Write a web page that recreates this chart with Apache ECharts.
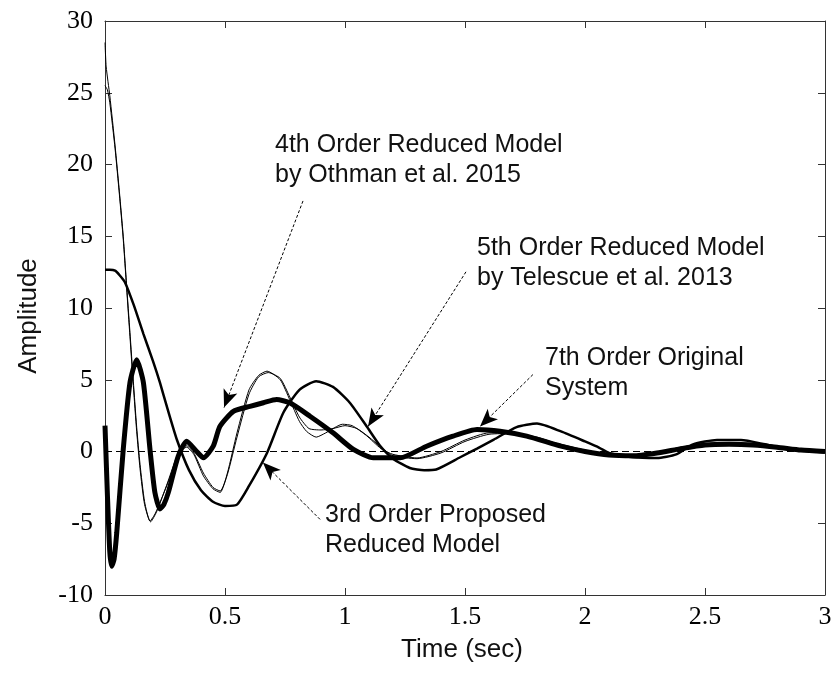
<!DOCTYPE html>
<html>
<head>
<meta charset="utf-8">
<script src="https://cdn.jsdelivr.net/npm/echarts@6/dist/echarts.min.js"></script>
<style>html,body{margin:0;padding:0;background:#fff}#c{width:837px;height:678px}</style>
</head>
<body>
<div id="c"></div>
<script>
// ---- data ----
var xTicks = [0, 0.5, 1, 1.5, 2, 2.5, 3];
var yTicks = [-10, -5, 0, 5, 10, 15, 20, 25, 30];

// 7th order original system
var t7 = [0,0.005,0.02,0.042,0.06,0.076,0.09,0.104,0.118,0.132,0.146,0.165,0.1875,0.21,0.257,0.3125,0.34,0.37,0.41,0.45,0.48,0.51,0.55,0.6,0.64,0.675,0.73,0.77,0.81,0.84,0.88,0.92,0.99,1.03,1.09,1.15,1.2,1.3,1.4,1.5,1.6,1.7,1.8,1.9,2.0,2.1,2.2,2.3,2.4,2.5,2.6,2.7,2.8,2.9,3.0];
var v7 = [28.5,26.8,24.8,21.3,18.1,15.0,11.6,8.3,4.9,1.7,-0.9,-3.5,-4.85,-4.3,-2.4,0,0.3,-0.2,-1.7,-2.6,-2.85,-1.5,1.3,4.3,5.3,5.6,5.0,3.6,2.1,1.4,1.0,1.3,1.9,1.8,1.1,0.2,-0.2,-0.45,0.0,0.8,1.3,1.3,0.9,0.5,0.1,-0.2,-0.3,-0.1,0.3,0.5,0.6,0.55,0.3,0.05,0];

// 5th order reduced model (Telescue et al. 2013)
var t5 = [0,0.01,0.02,0.042,0.06,0.076,0.09,0.104,0.118,0.132,0.146,0.165,0.19,0.215,0.26,0.31,0.34,0.37,0.41,0.45,0.48,0.51,0.55,0.6,0.64,0.68,0.73,0.77,0.81,0.85,0.9,0.95,1.0,1.05,1.1,1.15,1.2,1.3,1.4,1.5,1.6,1.7,1.8,1.9,2.0,2.1,2.2,2.3,2.4,2.5,2.6,2.7,2.8,2.9,3.0];
var v5 = [25.5,25.2,24.3,21.1,17.9,14.8,11.4,8.0,4.6,1.4,-1.2,-3.7,-4.9,-4.2,-2.2,0.1,0.4,-0.1,-1.5,-2.5,-2.75,-1.6,1.0,4.0,5.2,5.5,5.1,3.8,2.4,1.6,1.5,1.6,1.8,1.6,1.0,0.3,-0.3,-0.5,-0.1,0.7,1.2,1.25,1.0,0.45,0.05,-0.25,-0.3,-0.05,0.3,0.55,0.6,0.5,0.25,0.05,0];

// 4th order reduced model (Othman et al. 2015)
var t4 = [0,0.02,0.042,0.06,0.083,0.12,0.16,0.2,0.229,0.26,0.3,0.35,0.4,0.45,0.5,0.55,0.6,0.675,0.743,0.81,0.88,0.95,1.02,1.09,1.146,1.2,1.27,1.33,1.38,1.48,1.55,1.62,1.715,1.8,1.9,2.0,2.06,2.1,2.2,2.3,2.38,2.45,2.55,2.65,2.75,2.85,2.95,3.0];
var v4 = [12.66,12.66,12.6,12.3,11.8,10.2,8.2,6.3,4.8,3.0,0.8,-1.3,-2.7,-3.5,-3.8,-3.7,-2.4,-0.1,2.7,4.3,4.9,4.5,3.4,1.76,0.4,-0.5,-1.15,-1.3,-1.25,-0.4,0.2,0.83,1.7,1.95,1.4,0.7,0.26,-0.1,-0.4,-0.45,-0.2,0.5,0.8,0.8,0.5,0.15,0.0,-0.05];

// 3rd order proposed reduced model
var t3 = [0,0.01,0.02,0.028,0.038,0.049,0.076,0.104,0.132,0.16,0.1875,0.208,0.229,0.245,0.264,0.305,0.34,0.382,0.41,0.451,0.479,0.535,0.604,0.66,0.715,0.77,0.854,0.95,1.035,1.118,1.23,1.34,1.45,1.55,1.646,1.757,1.9,2.0,2.1,2.2,2.3,2.4,2.5,2.6,2.7,2.8,2.9,3.0];
var v3 = [1.8,-3,-7,-8.0,-7.5,-5.65,0.14,4.8,6.4,4.8,0.14,-2.87,-4.0,-3.7,-2.85,-0.33,0.72,0.0,-0.44,0.37,1.76,2.8,3.15,3.4,3.62,3.39,2.46,1.3,0.14,-0.44,-0.44,0.37,1.07,1.53,1.41,1.07,0.37,0.0,-0.25,-0.3,-0.1,0.2,0.45,0.5,0.45,0.3,0.1,0.0];

var zeroT = [0, 3];
var zeroV = [0, 0];

function pairs(t, v) { return t.map(function (x, i) { return [x, v[i]]; }); }

var chart = echarts.init(document.getElementById('c'), null, {renderer: 'canvas'});
var axisCol = '#333';
var tickFont = '"Liberation Serif", "Times New Roman", serif';
var sans = '"Liberation Sans", Arial, sans-serif';

function xAx(pos, show) {
  return {
    type: 'value', position: pos, min: 0, max: 3, interval: 0.5,
    axisLine: {show: true, onZero: false, lineStyle: {color: axisCol, width: 1}},
    axisTick: {show: true, inside: true, length: 7, lineStyle: {color: axisCol}},
    axisLabel: {show: show, color: '#000', fontFamily: tickFont, fontSize: 26, margin: 9,
      formatter: function (v) { return String(v); }},
    splitLine: {show: false}
  };
}
function yAx(pos, show) {
  return {
    type: 'value', position: pos, min: -10, max: 30, interval: 5,
    axisLine: {show: true, onZero: false, lineStyle: {color: axisCol, width: 1}},
    axisTick: {show: true, inside: true, length: 7, lineStyle: {color: axisCol}},
    axisLabel: {show: show, color: '#000', fontFamily: tickFont, fontSize: 26, margin: 12},
    splitLine: {show: false}
  };
}

var arrowStyle = {color: '#000', width: 1, type: [3, 2]};
function arrow(a, b) {
  return [{coord: a}, {coord: b}];
}

var option = {
  animation: false,
  backgroundColor: '#fff',
  grid: {left: 105, top: 21, width: 720, height: 574, containLabel: false},
  xAxis: [xAx('bottom', true), xAx('top', false)],
  yAxis: [yAx('left', true), yAx('right', false)],
  series: [
    {
      type: 'line', data: pairs(zeroT, zeroV), symbol: 'none', silent: true,
      lineStyle: {color: '#000', width: 1, type: [7, 4]},
      markLine: {
        silent: true, symbol: ['none', 'arrow'], symbolSize: [11, 18],
        label: {show: false}, lineStyle: arrowStyle, animation: false,
        data: [
          arrow([0.825, 17.46], [0.496, 3.06]),
          arrow([1.504, 12.52], [1.096, 1.74]),
          arrow([1.783, 5.36], [1.5625, 1.74]),
          arrow([0.896, -4.73], [0.658, -0.77])
        ]
      }
    },
    {name: '7th Order Original System', type: 'line', data: pairs(t7, v7), symbol: 'none', smooth: 0.2,
      lineStyle: {color: '#000', width: 1}},
    {name: '5th Order Reduced Model', type: 'line', data: pairs(t5, v5), symbol: 'none', smooth: 0.2,
      lineStyle: {color: '#000', width: 1}},
    {name: '4th Order Reduced Model', type: 'line', data: pairs(t4, v4), symbol: 'none', smooth: 0.2,
      lineStyle: {color: '#000', width: 2.5}},
    {name: '3rd Order Proposed Reduced Model', type: 'line', data: pairs(t3, v3), symbol: 'none', smooth: 0.2,
      lineStyle: {color: '#000', width: 5}}
  ],
  graphic: [
    {type: 'text', left: 275, top: 130, style: {text: '4th Order Reduced Model\nby Othman et al. 2015', font: '25px ' + sans, fill: '#111', lineHeight: 30}},
    {type: 'text', left: 477, top: 233, style: {text: '5th Order Reduced Model\nby Telescue et al. 2013', font: '25px ' + sans, fill: '#111', lineHeight: 30}},
    {type: 'text', left: 545, top: 343, style: {text: '7th Order Original\nSystem', font: '25px ' + sans, fill: '#111', lineHeight: 30}},
    {type: 'text', left: 325, top: 500, style: {text: '3rd Order Proposed\nReduced Model', font: '25px ' + sans, fill: '#111', lineHeight: 30}},
    {type: 'text', x: 29, y: 316, rotation: Math.PI / 2, style: {text: 'Amplitude', font: '26px ' + sans, fill: '#111', textAlign: 'center', textVerticalAlign: 'middle'}},
    {type: 'text', x: 462, y: 650, style: {text: 'Time (sec)', font: '26px ' + sans, fill: '#111', textAlign: 'center', textVerticalAlign: 'middle'}}
  ]
};
chart.setOption(option);
</script>
</body>
</html>
